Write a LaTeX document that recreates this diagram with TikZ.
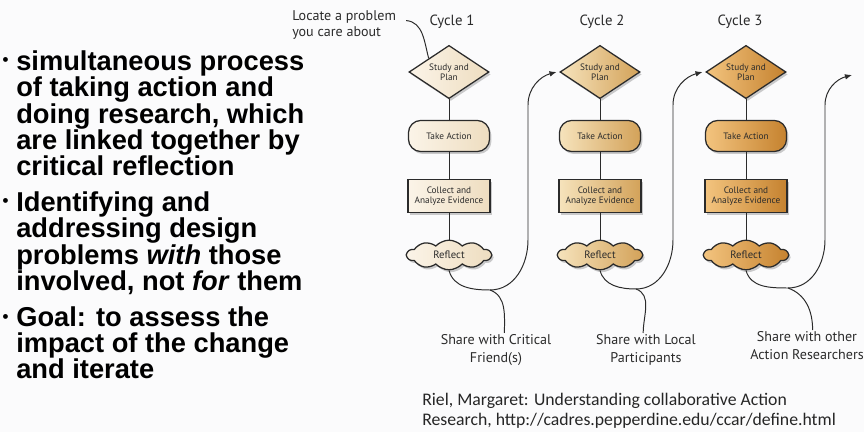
\documentclass[tikz,border=0pt]{standalone}
\usepackage{fontspec}
\setmainfont{Liberation Sans}
\newfontfamily\labelfont{PT Sans}
\newfontfamily\citefont{Carlito}
\usetikzlibrary{shapes.geometric,shapes.symbols,shadows,arrows.meta}

\definecolor{ink}{HTML}{2B2B2B}
\definecolor{paper}{HTML}{FBFBFC}
\definecolor{creamL}{HTML}{FBF4E8}
\definecolor{creamR}{HTML}{EEDDC0}
\definecolor{goldL}{HTML}{F6E3BC}
\definecolor{goldR}{HTML}{D3A259}
\definecolor{amberL}{HTML}{F3C47F}
\definecolor{amberR}{HTML}{C5822F}

\tikzset{
  bul/.style={align=left, inner sep=0pt, font=\bfseries\fontsize{19.4}{18.8}\selectfont},
  dot/.style={inner sep=0pt, font=\bfseries\fontsize{12}{12}\selectfont},
  stepbox/.style={draw=ink, line width=0.9pt, text=ink, align=center, inner sep=0pt,
    font=\labelfont\fontsize{6.6}{7.4}\selectfont,
    drop shadow={opacity=0.4, shadow xshift=1.3pt, shadow yshift=-1.7pt}},
  plannode/.style={stepbox, diamond, aspect=1.5, minimum width=2cm, minimum height=1.33cm},
  actnode/.style={stepbox, rectangle, rounded corners=9pt, minimum width=2.03cm, minimum height=0.78cm},
  colnode/.style={stepbox, rectangle, minimum width=2.05cm, minimum height=0.83cm},
  refnode/.style={stepbox, cloud, cloud puffs=10, cloud puff arc=95, aspect=3.2,
    minimum width=2.1cm, minimum height=0.74cm},
  cyc1/.style={left color=creamL, right color=creamR},
  cyc2/.style={left color=goldL, right color=goldR},
  cyc3/.style={left color=amberL, right color=amberR},
  tag/.style={text=ink, align=center, inner sep=1pt, font=\labelfont\fontsize{10}{12.8}\selectfont},
  wire/.style={draw=ink, line width=0.7pt},
}

\begin{document}
\begin{tikzpicture}[x=0.025cm,y=-0.025cm]
\fill [paper] (0,0) rectangle (864,432);
\useasboundingbox (0,0) rectangle (864,432);

% bullets on the left (base = last line)
\node [dot] (d1) at (5.5,62) {•};
\node [bul, anchor=base west] (b1) at (16,176) {simultaneous process\\of taking action and\\doing research, which\\are linked together by\\critical reflection};
\node [dot] (d2) at (5.5,203) {•};
\node [bul, anchor=base west] (b2) at (16,290.5) {Identifying and\\addressing design\\problems \textit{with} those\\involved, not \textit{for} them};
\node [dot] (d3) at (5.5,319) {•};
\node [bul, anchor=base west] (b3) at (16,379) {Goal: to assess the\\impact of the change\\and iterate};

% three cycles
\foreach \i/\x in {1/449, 2/600, 3/746} {
  \node [plannode, cyc\i] (plan\i) at (\x,72) {Study and\\Plan};
  \node [actnode, cyc\i] (act\i) at (\x,136) {Take Action};
  \node [colnode, cyc\i] (col\i) at (\x,196) {Collect and\\Analyze Evidence};
  \node [refnode, cyc\i] (ref\i) at (\x,255) {\fontsize{7.6}{8}\selectfont Reflect};
  \draw [wire] (plan\i.south) -- (act\i.north);
  \draw [wire] (act\i.south) -- (col\i.north);
  \draw [wire] (col\i.south) -- (ref\i.north);
}
\node [tag, anchor=base, font=\labelfont\fontsize{10.5}{12}\selectfont] (cy1) at (452,26) {Cycle 1};
\node [tag, anchor=base, font=\labelfont\fontsize{10.5}{12}\selectfont] (cy2) at (602,26) {Cycle 2};
\node [tag, anchor=base, font=\labelfont\fontsize{10.5}{12}\selectfont] (cy3) at (740,26) {Cycle 3};

% start
\node [text=ink, align=left, inner sep=0pt, anchor=base west,
  font=\labelfont\fontsize{10}{11.5}\selectfont] (locate) at (292,37) {Locate a problem\\ you care about};
\draw [wire] ([xshift=7pt,yshift=-7pt]locate.north east) to[out=-5,in=105] (plan1.north west);

% loops to the next cycle
\coordinate (lo1) at (490,290);
\coordinate (lo2) at (636,289);
\coordinate (lo3) at (788,288);
\coordinate (up1) at (528,105);
\coordinate (up2) at (673,105);
\coordinate (up3) at (825,105);
\coordinate (end3) at (852,75);
\draw [wire, -{Latex[length=5pt,width=4pt]}] (ref1.south) to[out=-75,in=180] (lo1) to[out=0,in=-90] (528,240) -- (up1) to[out=90,in=195] ([xshift=-2pt]plan2.west);
\draw [wire, -{Latex[length=5pt,width=4pt]}] (ref2.south) to[out=-75,in=180] (lo2) to[out=0,in=-90] (673,240) -- (up2) to[out=90,in=195] ([xshift=-2pt]plan3.west);
\draw [wire, -{Latex[length=5pt,width=4pt]}] (ref3.south) to[out=-75,in=180] (lo3) to[out=0,in=-90] (825,240) -- (up3) to[out=90,in=195] (end3);

% sharing
\node [tag, anchor=north] (sh1) at (496,333) {Share with Critical\\Friend(s)};
\node [tag, anchor=north] (sh2) at (646,333) {Share with Local\\Participants};
\node [tag, anchor=north] (sh3) at (807,330) {Share with other\\Action Researchers};
\draw [wire] (lo1) to[out=-20,in=90] ([xshift=6pt]sh1.north);
\draw [wire] (lo2) to[out=-20,in=90] ([xshift=-2pt]sh2.north);
\draw [wire] (lo3) to[out=-20,in=90] ([xshift=4pt]sh3.north);

% source
\node [anchor=base west, align=left, inner sep=0pt, text=black!85,
  font=\citefont\fontsize{12.6}{14.9}\selectfont] (src) at (422,426) {Riel, Margaret: Understanding collaborative Action\\Research, http://cadres.pepperdine.edu/ccar/define.html};
\end{tikzpicture}
\end{document}
